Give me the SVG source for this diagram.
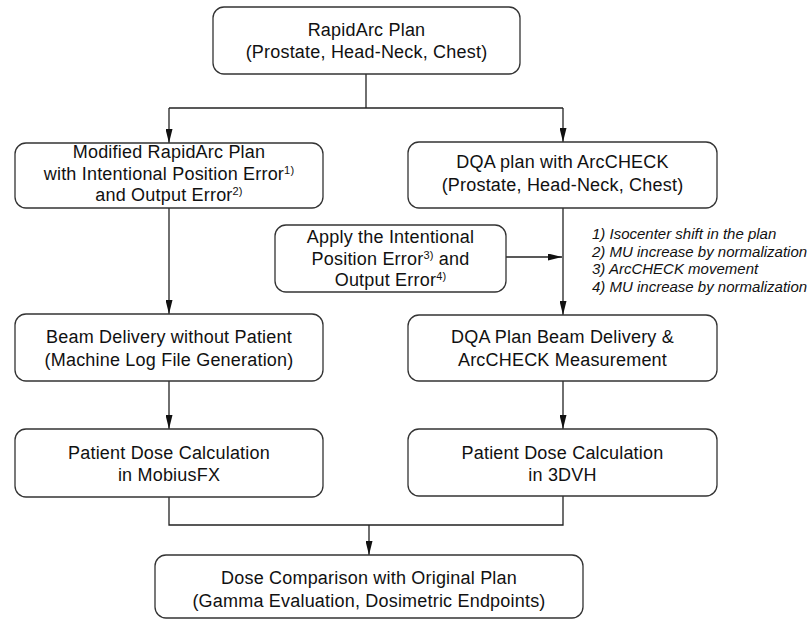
<svg xmlns="http://www.w3.org/2000/svg" width="809" height="622" viewBox="0 0 809 622">
<defs>
<marker id="ah" viewBox="0 0 14 7" refX="14" refY="3.5" markerWidth="14" markerHeight="7" markerUnits="userSpaceOnUse" orient="auto">
<path d="M0,0 L14,3.5 L0,7 Z" fill="#111"/>
</marker>
</defs>
<style>
.box{fill:#fff;stroke:#333;stroke-width:1.3}
.t{font-family:"Liberation Sans",Arial,sans-serif;font-size:18px;letter-spacing:0.2px;fill:#111;text-anchor:middle}
.sup{font-size:11px}
.note{font-family:"Liberation Sans",Arial,sans-serif;font-size:15px;font-style:italic;fill:#111}
.c{fill:none;stroke:#222;stroke-width:1.3}
</style>
<rect width="809" height="622" fill="#fff"/>
<g id="connectors">
<path class="c" d="M366,74 V108"/>
<path class="c" d="M169,108 H563"/>
<path class="c" d="M169,108 V143" marker-end="url(#ah)"/>
<path class="c" d="M563,108 V142" marker-end="url(#ah)"/>
<path class="c" d="M169,208 V314" marker-end="url(#ah)"/>
<path class="c" d="M169,381 V429" marker-end="url(#ah)"/>
<path class="c" d="M169,497 V525 H563 V496"/>
<path class="c" d="M563,208 V315" marker-end="url(#ah)"/>
<path class="c" d="M563,381 V429" marker-end="url(#ah)"/>
<path class="c" d="M369,525 V555" marker-end="url(#ah)"/>
<path class="c" d="M506,257 H562" marker-end="url(#ah)"/>
</g>
<g id="n-rapidarc">
<rect class="box" x="213" y="7" width="307" height="67" rx="11"/>
<text class="t" x="366.5" y="36">RapidArc Plan</text>
<text class="t" x="366.5" y="58">(Prostate, Head-Neck, Chest)</text>
</g>
<g id="n-modified">
<rect class="box" x="15" y="143" width="308" height="65" rx="11"/>
<text class="t" x="169" y="158">Modified RapidArc Plan</text>
<text class="t" x="169" y="180">with Intentional Position Error<tspan class="sup" dy="-6">1)</tspan></text>
<text class="t" x="169" y="201">and Output Error<tspan class="sup" dy="-6">2)</tspan></text>
</g>
<g id="n-dqa">
<rect class="box" x="408" y="142" width="309" height="66" rx="11"/>
<text class="t" x="562.5" y="168">DQA plan with ArcCHECK</text>
<text class="t" x="562.5" y="191">(Prostate, Head-Neck, Chest)</text>
</g>
<g id="n-apply">
<rect class="box" x="275" y="225" width="231" height="67" rx="11"/>
<text class="t" x="390.5" y="243">Apply the Intentional</text>
<text class="t" x="390.5" y="265">Position Error<tspan class="sup" dy="-6">3)</tspan><tspan dy="6"> and</tspan></text>
<text class="t" x="390.5" y="286">Output Error<tspan class="sup" dy="-6">4)</tspan></text>
</g>
<g id="n-notes">
<text class="note" x="592" y="239">1) Isocenter shift in the plan</text>
<text class="note" x="592" y="257">2) MU increase by normalization</text>
<text class="note" x="592" y="274">3) ArcCHECK movement</text>
<text class="note" x="592" y="292">4) MU increase by normalization</text>
</g>
<g id="n-beam">
<rect class="box" x="15" y="314" width="308" height="67" rx="11"/>
<text class="t" x="169" y="343">Beam Delivery without Patient</text>
<text class="t" x="169" y="366">(Machine Log File Generation)</text>
</g>
<g id="n-dqabeam">
<rect class="box" x="408" y="315" width="309" height="66" rx="11"/>
<text class="t" x="562.5" y="343">DQA Plan Beam Delivery &amp;</text>
<text class="t" x="562.5" y="366">ArcCHECK Measurement</text>
</g>
<g id="n-mobius">
<rect class="box" x="15" y="429" width="308" height="68" rx="11"/>
<text class="t" x="169" y="459">Patient Dose Calculation</text>
<text class="t" x="169" y="481">in MobiusFX</text>
</g>
<g id="n-3dvh">
<rect class="box" x="408" y="429" width="309" height="67" rx="11"/>
<text class="t" x="562.5" y="459">Patient Dose Calculation</text>
<text class="t" x="562.5" y="481">in 3DVH</text>
</g>
<g id="n-compare">
<rect class="box" x="155" y="555" width="428" height="63" rx="11"/>
<text class="t" x="369" y="584">Dose Comparison with Original Plan</text>
<text class="t" x="369" y="607">(Gamma Evaluation, Dosimetric Endpoints)</text>
</g>
</svg>
